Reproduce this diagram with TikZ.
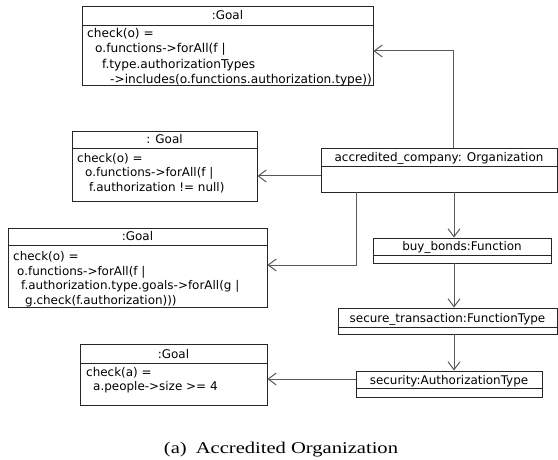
\documentclass[tikz,border=0pt]{standalone}
\usepackage{fontspec}
\setmainfont{Liberation Serif}
\newfontfamily\boxfont{DejaVu Sans}
\newfontfamily\capfont[FakeStretch=1.25]{Liberation Serif}
\usetikzlibrary{arrows.meta,fit}
\begin{document}
\begin{tikzpicture}[x=1bp,y=-1bp,
  obj/.style={draw=black!85, line width=0.9bp, inner sep=0pt},
  sep/.style={draw=black!85, line width=0.9bp},
  head/.style={font=\boxfont\fontsize{12}{14}\selectfont, inner sep=0pt, anchor=base},
  body/.style={font=\boxfont\fontsize{12}{14.5}\selectfont, inner sep=0pt, anchor=north west, align=left},
  conn/.style={draw=black!65, line width=1bp, -{Straight Barb[length=8bp,width=12bp,line width=1bp]}},
  plain/.style={draw=black!65, line width=1bp}
]
\useasboundingbox (0,0) rectangle (558,460);

% ---------- Goal boxes ----------
\node[obj, fit={(82,6) (373,85)}] (g1) {};
\draw[sep] (g1.west |- 0,25) -- (g1.east |- 0,25);
\node[head] (g1h) at (227.5,20) {:Goal};
\node[body, font=\boxfont\fontsize{12.2}{15.5}\selectfont] (g1b) at (87,28) {check(o) =\\
\hspace*{8bp}o.functions->forAll(f |\\
\hspace*{15bp}f.type.authorizationTypes\\
\hspace*{23bp}->includes(o.functions.authorization.type))};

\node[obj, fit={(72,131) (257,201)}] (g2) {};
\draw[sep] (g2.west |- 0,148) -- (g2.east |- 0,148);
\node[head] (g2h) at (164.5,144) {: Goal};
\node[body] (g2b) at (77,153) {check(o) =\\
\hspace*{8bp}o.functions->forAll(f |\\
\hspace*{12bp}f.authorization != null)};

\node[obj, fit={(8,228) (267,307)}] (g3) {};
\draw[sep] (g3.west |- 0,245) -- (g3.east |- 0,245);
\node[head] (g3h) at (137.5,240.5) {:Goal};
\node[body, font=\boxfont\fontsize{12}{14.8}\selectfont] (g3b) at (13,251) {check(o) =\\
\hspace*{4bp}o.functions->forAll(f |\\
\hspace*{8bp}f.authorization.type.goals->forAll(g |\\
\hspace*{12bp}g.check(f.authorization)))};

\node[obj, fit={(80,344) (267,405)}] (g4) {};
\draw[sep] (g4.west |- 0,363) -- (g4.east |- 0,363);
\node[head] (g4h) at (173.5,358) {:Goal};
\node[body] (g4b) at (86,367) {check(a) =\\
\hspace*{7bp}a.people->size >= 4};

% ---------- object boxes ----------
\node[obj, fit={(321,148) (557,192)}] (org) {};
\draw[sep] (org.west |- 0,166) -- (org.east |- 0,166);
\node[head] (orgh) at (439,161.5) {accredited\_company: Organization};

\node[obj, fit={(373,238) (551,263)}] (buy) {};
\draw[sep] (buy.west |- 0,255) -- (buy.east |- 0,255);
\node[head] (buyh) at (462,250.5) {buy\_bonds:Function};

\node[obj, fit={(338,308) (557,334)}] (sec) {};
\draw[sep] (sec.west |- 0,327) -- (sec.east |- 0,327);
\node[head] (sech) at (447.5,322) {secure\_transaction:FunctionType};

\node[obj, fit={(356,371) (542,397)}] (auth) {};
\draw[sep] (auth.west |- 0,388) -- (auth.east |- 0,388);
\node[head] (authh) at (449,384) {security:AuthorizationType};

% ---------- connectors ----------
\draw[conn] (org.north -| 453,0) |- (g1.east |- 0,51);
\draw[conn] (org.west |- 0,176) -- (g2.east |- 0,176);
\draw[conn] (org.south -| 356,0) |- (g3.east |- 0,265);
\draw[conn] (org.south -| 454,0) -- (buy.north -| 454,0);
\draw[conn] (buy.south -| 454,0) -- (sec.north -| 454,0);
\draw[conn] (sec.south -| 454,0) -- (auth.north -| 454,0);
\draw[conn] (auth.west |- 0,379) -- (g4.east |- 0,379);

% ---------- caption ----------
\node[font=\capfont\fontsize{16.5}{20}\selectfont, inner sep=0pt] (cap) at (281,450) {(a)\hspace{0.55em}Accredited Organization};
\end{tikzpicture}
\end{document}
